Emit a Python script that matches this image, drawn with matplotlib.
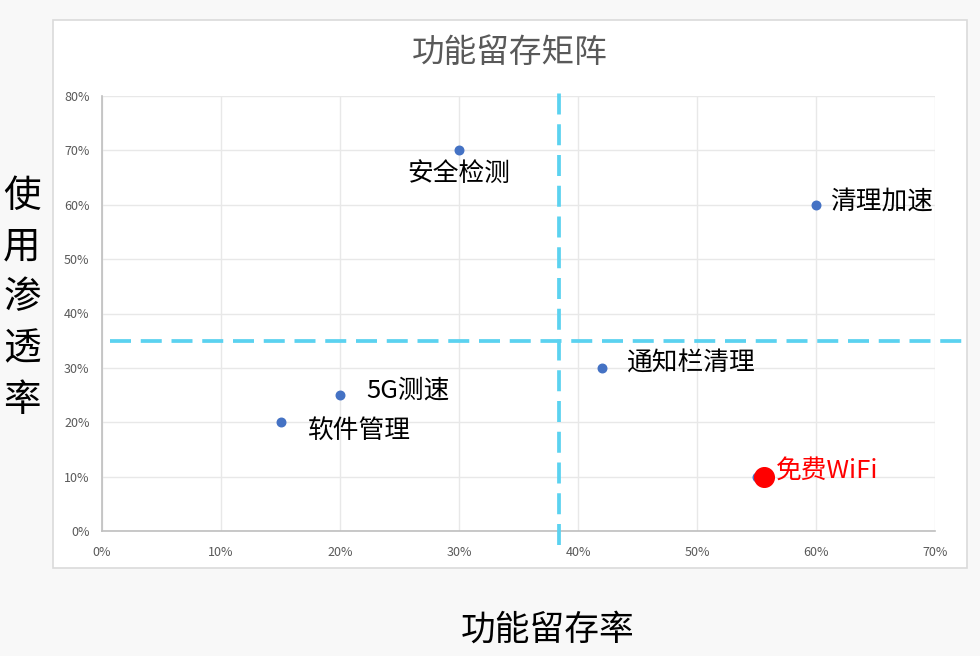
import matplotlib
matplotlib.use("Agg")
import matplotlib.pyplot as plt
from matplotlib.patches import Rectangle
from matplotlib.ticker import PercentFormatter, MultipleLocator

plt.rcParams['font.family'] = ['Noto Sans CJK SC', 'DejaVu Sans']

names = ['安全检测', '清理加速', '通知栏清理', '5G测速', '软件管理', '免费WiFi']
retention = [0.30, 0.60, 0.42, 0.20, 0.15, 0.55]
penetration = [0.70, 0.60, 0.30, 0.25, 0.20, 0.10]
highlight_name = '免费WiFi'
highlight_x = 0.556
highlight_y = 0.10
retention_cut = 0.384
penetration_cut = 0.35

title = '功能留存矩阵'
xlabel = '功能留存率'
ylabel = '使用渗透率'

fig = plt.figure(figsize=(9.8, 6.56), dpi=100)
fig.patch.set_facecolor('#f8f8f8')

# chart frame
frame = Rectangle((53/980, 1-568/656), (967-53)/980, (568-20)/656,
                  transform=fig.transFigure, facecolor='white',
                  edgecolor='#dadada', linewidth=1.2, zorder=-10)
fig.patches.append(frame)

ax = fig.add_axes([102/980, 1-531/656, (935-102)/980, (531-96)/656])
ax.set_zorder(1)
ax.set_xlim(0, 0.7)
ax.set_ylim(0, 0.8)
ax.xaxis.set_major_locator(MultipleLocator(0.1))
ax.yaxis.set_major_locator(MultipleLocator(0.1))
ax.xaxis.set_major_formatter(PercentFormatter(1.0, decimals=0))
ax.yaxis.set_major_formatter(PercentFormatter(1.0, decimals=0))
ax.grid(True, color='#e8e8e8', linewidth=1)
ax.set_axisbelow(True)
for s in ['top', 'right']:
    ax.spines[s].set_visible(False)
for s in ['left', 'bottom']:
    ax.spines[s].set_color('#bfbfbf')
    ax.spines[s].set_linewidth(1.2)
ax.tick_params(length=0, labelsize=9, colors='#595959')
ax.tick_params(axis='x', pad=11)
ax.tick_params(axis='y', pad=9)
ax.set_facecolor('white')

ax.scatter(retention, penetration, s=38, color='#4472c4', zorder=3)
ax.scatter([highlight_x], [highlight_y], s=200, color='#ff0000', zorder=4)

label_style = dict(fontsize=18.5, color='black', fontweight='medium')
offsets = {
    '安全检测': ((0, -17), 'center', 'center'),
    '清理加速': ((10, 2), 'left', 'center'),
    '通知栏清理': ((18, 3), 'left', 'center'),
    '5G测速': ((19, 3), 'left', 'center'),
    '软件管理': ((19, -6), 'left', 'center'),
}
for n, x, y in zip(names, retention, penetration):
    if n in offsets:
        off, ha, va = offsets[n]
        ax.annotate(n, (x, y), xytext=off, textcoords='offset points',
                    ha=ha, va=va, **label_style)
ax.annotate(highlight_name, (highlight_x, highlight_y), xytext=(9, 4),
            textcoords='offset points', ha='left', va='center',
            fontsize=18.5, color='#ff0000', fontweight='medium')

dash = dict(color='#5bd2f0', linewidth=2.7, linestyle=(0, (5.6, 2.6)), clip_on=False, zorder=5)
ax.plot([retention_cut, retention_cut], [-0.026, 0.811], **dash)
ax.plot([0.007, 0.727], [penetration_cut, penetration_cut], **dash)

fig.text(510/980, 1-53/656, title, fontsize=23.5, color='#595959', ha='center', va='center')
fig.text(548/980, 1-630/656, xlabel, fontsize=25, color='black', ha='center', va='center',
         fontweight='medium')
fig.text(22/980, 1-298/656, '\n'.join(ylabel), fontsize=27, color='black',
         ha='center', va='center', linespacing=1.4, fontweight='medium')

fig.savefig('out.png', dpi=100, facecolor=fig.get_facecolor())
